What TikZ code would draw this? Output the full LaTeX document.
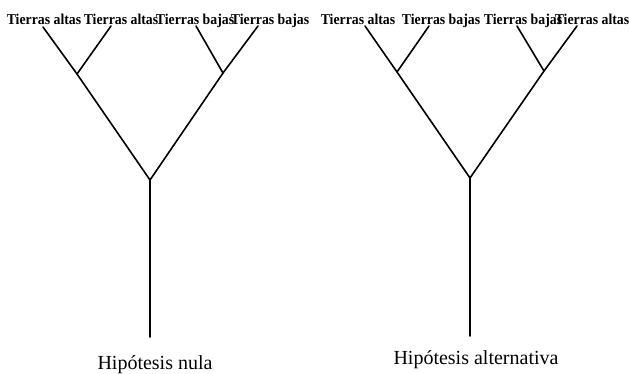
\documentclass[tikz,border=0pt]{standalone}
\usepackage{fontspec}
\setmainfont{Liberation Serif}
\usepackage{tikz}
\usetikzlibrary{positioning}

\tikzset{
    rama/.style={line width=1.6pt, line cap=round},
    hoja/.style={anchor=base, inner sep=0pt, xscale=0.92, font=\fontsize{15}{18}\selectfont\bfseries},
    titulo/.style={anchor=base, inner sep=0pt, font=\fontsize{20}{24}\selectfont}
}

\begin{document}
\begin{tikzpicture}[x=1pt, y=-1pt]

    % =================================================================
    % 1. MARCO DE LA FIGURA
    % =================================================================
    \useasboundingbox (0,0) rectangle (629,373);

    % =================================================================
    % 2. ÁRBOL DE LA HIPÓTESIS NULA
    % =================================================================
    % Puntas de las ramas, nodos internos y raíz
    \coordinate (n1) at (43,27);
    \coordinate (n2) at (111,26);
    \coordinate (n3) at (196,26);
    \coordinate (n4) at (258,26);
    \coordinate (nA) at (77,74);
    \coordinate (nB) at (223,73);
    \coordinate (nR) at (150,180);
    \coordinate (nT) at (150,337);

    % Etiquetas de las hojas
    \node[hoja] (en1) at (44,24) {Tierras altas};
    \node[hoja] (en2) at (121,24) {Tierras altas};
    \node[hoja] (en3) at (195,24) {Tierras bajas};
    \node[hoja] (en4) at (270,24) {Tierras bajas};

    % Ramas
    \draw[rama] (n1) -- (nA) -- (nR);
    \draw[rama] (n2) -- (nA);
    \draw[rama] (n3) -- (nB);
    \draw[rama] (n4) -- (nB) -- (nR);
    \draw[rama] (nR) -- (nT);

    \node[titulo] (nula) at (155,369) {Hipótesis nula};

    % =================================================================
    % 3. ÁRBOL DE LA HIPÓTESIS ALTERNATIVA
    % =================================================================
    \coordinate (a1) at (365,26);
    \coordinate (a2) at (429,26);
    \coordinate (a3) at (517,26);
    \coordinate (a4) at (577,26);
    \coordinate (aA) at (397,72);
    \coordinate (aB) at (544,71);
    \coordinate (aR) at (470,178);
    \coordinate (aT) at (470,336);

    % Etiquetas de las hojas
    \node[hoja] (ea1) at (358,24) {Tierras altas};
    \node[hoja] (ea2) at (441,24) {Tierras bajas};
    \node[hoja] (ea3) at (523,24) {Tierras bajas};
    \node[hoja] (ea4) at (592,24) {Tierras altas};

    % Ramas
    \draw[rama] (a1) -- (aA) -- (aR);
    \draw[rama] (a2) -- (aA);
    \draw[rama] (a3) -- (aB);
    \draw[rama] (a4) -- (aB) -- (aR);
    \draw[rama] (aR) -- (aT);

    \node[titulo] (alternativa) at (476,364) {Hipótesis alternativa};

\end{tikzpicture}
\end{document}
